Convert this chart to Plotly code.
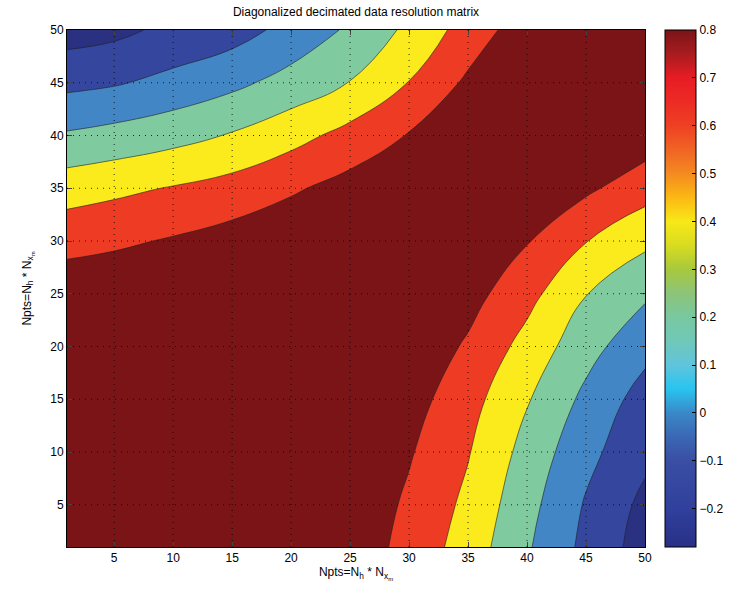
import plotly.graph_objects as go

# grid nodes (Npts values)
x_nodes = [1, 5, 10, 15, 20, 25, 30, 35, 40, 45, 50]
y_nodes = [1, 5, 10, 15, 20, 25, 30, 35, 40, 45, 50]

# estimated matrix values, rows = y_nodes, columns = x_nodes
z_y1  = [0.8, 0.8, 0.8, 0.8, 0.8, 0.78, 0.627, 0.449, 0.219, -0.002, -0.19]
z_y5  = [0.8, 0.8, 0.8, 0.8, 0.8, 0.8, 0.652, 0.484, 0.253, 0.025, -0.16]
z_y10 = [0.8, 0.8, 0.8, 0.8, 0.8, 0.8, 0.695, 0.53, 0.305, 0.086, -0.08]
z_y15 = [0.8, 0.8, 0.8, 0.8, 0.8, 0.8, 0.746, 0.58, 0.373, 0.162, -0.028]
z_y20 = [0.8, 0.8, 0.8, 0.8, 0.8, 0.8, 0.8, 0.658, 0.464, 0.259, 0.09]
z_y25 = [0.78, 0.8, 0.8, 0.8, 0.8, 0.8, 0.8, 0.74, 0.573, 0.365, 0.225]
z_y30 = [0.627, 0.652, 0.695, 0.746, 0.8, 0.8, 0.8, 0.78, 0.69, 0.525, 0.395]
z_y35 = [0.449, 0.484, 0.53, 0.58, 0.658, 0.74, 0.78, 0.8, 0.78, 0.71, 0.587]
z_y40 = [0.219, 0.253, 0.305, 0.373, 0.464, 0.573, 0.69, 0.78, 0.8, 0.8, 0.77]
z_y45 = [-0.002, 0.025, 0.086, 0.162, 0.259, 0.365, 0.525, 0.71, 0.8, 0.8, 0.8]
z_y50 = [-0.19, -0.16, -0.08, -0.028, 0.09, 0.225, 0.395, 0.587, 0.77, 0.8, 0.8]

z_rows = [z_y1, z_y5, z_y10, z_y15, z_y20, z_y25, z_y30, z_y35, z_y40, z_y45, z_y50]

# contour levels
level_start = -0.12
level_end = 0.68
level_size = 0.16

band_colors = ["#2a3180", "#34469e", "#4386c6", "#80caa0", "#fbea1c", "#ee3b24", "#7b1417"]

# colorbar colormap (value, colour)
cbar_vals = [-0.28, -0.2, -0.1, -0.05, 0.0, 0.05, 0.1, 0.15, 0.2, 0.25, 0.3, 0.35,
             0.4, 0.45, 0.5, 0.55, 0.6, 0.65, 0.7, 0.75, 0.8]
cbar_cols = ["#283086", "#30409c", "#3a4ea4", "#3a68b4", "#3a88c8", "#28c4f0", "#60c4dc",
             "#70c8b8", "#78c8a0", "#8cc478", "#a8c83c", "#d8dc20", "#f8e818", "#fcb814",
             "#f48a20", "#f06424", "#ee4024", "#ec2c24", "#e81c24", "#a81c20", "#7a1418"]
cbar_ticks = [-0.2, -0.1, 0, 0.1, 0.2, 0.3, 0.4, 0.5, 0.6, 0.7, 0.8]

x_ticks = [5, 10, 15, 20, 25, 30, 35, 40, 45, 50]
y_ticks = [5, 10, 15, 20, 25, 30, 35, 40, 45, 50]

title_text = "Diagonalized decimated data resolution matrix"
axis_label = "Npts=N<sub>h</sub> * N<sub>x<sub>m</sub></sub>"

FONT = "Liberation Sans, Arial, sans-serif"

n_bands = len(band_colors)
band_scale = [[k / (n_bands - 1), c] for k, c in enumerate(band_colors)]
vmin, vmax = cbar_vals[0], cbar_vals[-1]
cbar_scale = [[(v - vmin) / (vmax - vmin), c] for v, c in zip(cbar_vals, cbar_cols)]

fig = go.Figure()
fig.add_trace(go.Contour(
    x=x_nodes, y=y_nodes, z=z_rows,
    autocontour=False,
    contours=dict(start=level_start, end=level_end, size=level_size, coloring="fill"),
    colorscale=band_scale,
    line=dict(color="#202020", width=0.6, smoothing=1.3),
    showscale=False,
    hoverinfo="skip",
))

fig.add_trace(go.Scatter(
    x=[None], y=[None], mode="markers", showlegend=False,
    marker=dict(color=[0], colorscale=cbar_scale, cmin=vmin, cmax=vmax, showscale=True,
                colorbar=dict(x=1.0346, xanchor="left", xpad=0, y=0.5, yanchor="middle",
                              len=1, lenmode="fraction", thickness=31, ypad=0,
                              outlinecolor="black", outlinewidth=1,
                              tickvals=cbar_ticks, ticks="inside", ticklen=4,
                              tickcolor="black",
                              tickfont=dict(family=FONT, size=12, color="black"))),
))

shapes = []
grid_line = dict(color="rgba(0,0,0,0.8)", width=1, dash="1px,5px")
for xv in x_ticks[:-1]:
    shapes.append(dict(type="line", xref="x", yref="paper", x0=xv, x1=xv, y0=0, y1=1,
                       line=grid_line, layer="above"))
for yv in y_ticks[:-1]:
    shapes.append(dict(type="line", xref="paper", yref="y", x0=0, x1=1, y0=yv, y1=yv,
                       line=grid_line, layer="above"))

fig.update_layout(
    width=729, height=592,
    margin=dict(l=67, r=84, t=30, b=45, autoexpand=False),
    paper_bgcolor="white", plot_bgcolor="white",
    font=dict(family=FONT, size=12, color="black"),
    title=dict(text=title_text, x=0.5, xref="paper", xanchor="center",
               y=1 - 12 / 592, yref="container", yanchor="middle",
               font=dict(family=FONT, size=12, color="black")),
    shapes=shapes,
    showlegend=False,
)
fig.update_xaxes(range=[1, 50], tickvals=x_ticks, ticks="inside", ticklen=5,
                 showline=True, linecolor="black", linewidth=1, mirror="allticks",
                 showgrid=False, zeroline=False,
                 title=dict(text=axis_label, standoff=2, font=dict(family=FONT, size=12)))
fig.update_yaxes(range=[1, 50], tickvals=y_ticks, ticks="inside", ticklen=5,
                 showline=True, linecolor="black", linewidth=1, mirror="allticks",
                 showgrid=False, zeroline=False,
                 title=dict(text=axis_label, standoff=16, font=dict(family=FONT, size=12)))

fig.write_html(
    "out.html",
    config={"displayModeBar": False},
    post_script="document.body.style.margin='0';document.body.style.overflow='hidden';",
)
